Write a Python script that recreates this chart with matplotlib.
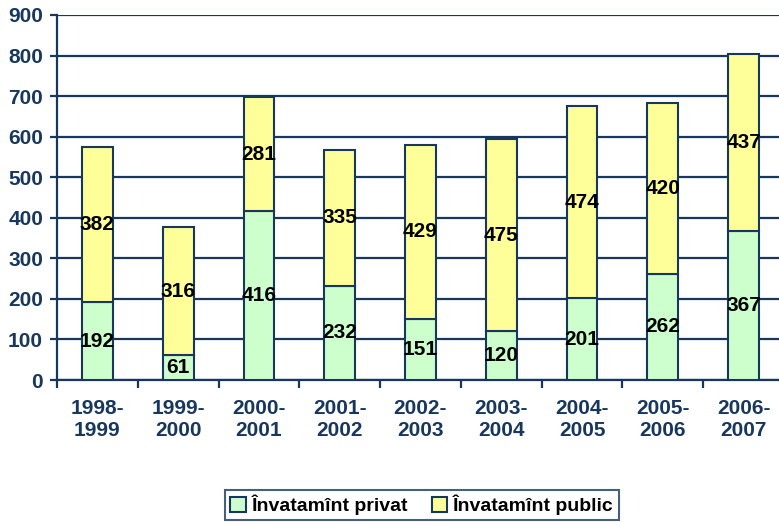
import numpy as np
import matplotlib
matplotlib.use("Agg")
import matplotlib.pyplot as plt

years = ["1998-\n1999", "1999-\n2000", "2000-\n2001", "2001-\n2002", "2002-\n2003",
         "2003-\n2004", "2004-\n2005", "2005-\n2006", "2006-\n2007"]
privat = [192, 61, 416, 232, 151, 120, 201, 262, 367]
public = [382, 316, 281, 335, 429, 475, 474, 420, 437]

navy = "#17375E"
green = "#CCFFCC"
yellow = "#FFFF99"

plt.rcParams['font.family'] = ['Liberation Sans', 'DejaVu Sans']

fig = plt.figure(figsize=(7.79, 5.22), dpi=100)
ax = fig.add_axes([57/779, 1-380/522, 727/779, 365/522])

x = np.arange(len(years))
w = 0.38
b1 = ax.bar(x, privat, w, color=green, edgecolor=navy, linewidth=1.5, zorder=3,
            label="Învatamînt privat")
b2 = ax.bar(x, public, w, bottom=privat, color=yellow, edgecolor=navy, linewidth=1.5,
            zorder=3, label="Învatamînt public")

for i in range(len(years)):
    ax.text(x[i], privat[i]/2, str(privat[i]), ha="center", va="center",
            fontsize=15, fontweight="bold", color="black", zorder=5)
    ax.text(x[i], privat[i] + public[i]/2, str(public[i]), ha="center", va="center",
            fontsize=15, fontweight="bold", color="black", zorder=5)

ax.set_xlim(-0.5, len(years) - 0.5)
ax.set_ylim(0, 900)
ax.set_yticks(range(0, 901, 100))
ax.yaxis.grid(True, color=navy, linewidth=1.6, zorder=0)
ax.set_axisbelow(True)

ax.set_xticks(x)
ax.set_xticklabels(years)
ax.set_xticks(np.arange(-0.5, len(years), 1), minor=True)
ax.tick_params(axis="x", which="major", length=0, pad=14)
ax.tick_params(axis="x", which="minor", length=6, width=1.6, color=navy, direction="out")
ax.tick_params(axis="y", length=5, width=1.6, color=navy, pad=5)

for lbl in ax.get_xticklabels() + ax.get_yticklabels():
    lbl.set_fontsize(15)
    lbl.set_fontweight("bold")
    lbl.set_color(navy)

for s in ["top", "right"]:
    ax.spines[s].set_visible(False)
for s in ["left", "bottom"]:
    ax.spines[s].set_color(navy)
    ax.spines[s].set_linewidth(1.6)

leg = fig.legend(handles=[b1, b2], loc="center", bbox_to_anchor=(422/779, 1-505/522),
                 ncol=2, frameon=True, fancybox=False, fontsize=14,
                 handlelength=0.8, handleheight=0.8, handletextpad=0.3,
                 columnspacing=1.2, borderpad=0.25, borderaxespad=0,
                 edgecolor=navy)
leg.get_frame().set_linewidth(1.5)
for t in leg.get_texts():
    t.set_fontweight("bold")

plt.savefig("out.png", dpi=100)
